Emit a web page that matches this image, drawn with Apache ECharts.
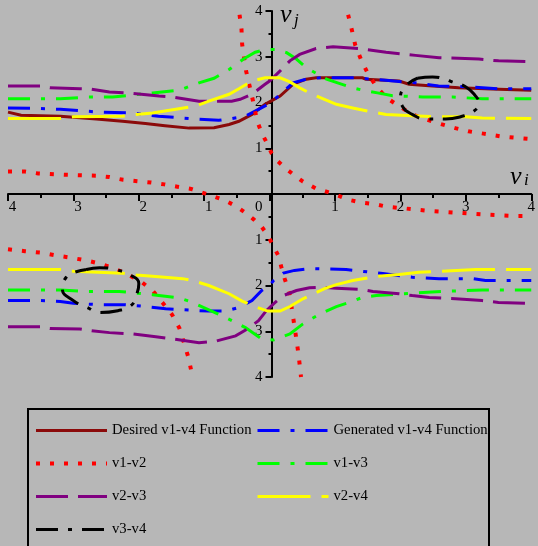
<!DOCTYPE html>
<html>
<head>
<meta charset="utf-8">
<script src="https://cdn.jsdelivr.net/npm/echarts@6/dist/echarts.min.js"></script>
<style>
  html, body { margin: 0; padding: 0; background: #b7b7b7; }
  #chart { width: 538px; height: 546px; }
</style>
</head>
<body>
<div id="chart"></div>
<script>
// Tick labels (magnitudes only) for values -4 .. 4
const xTickLabels = ['4', '3', '2', '1', '0', '1', '2', '3', '4'];
const yTickLabels = ['4', '3', '2', '1', '', '1', '2', '3', '4'];

// Desired v1-v4 relation (upper branch only)
const desired = [
  [-4, 1.79], [-3.8, 1.72], [-3.2, 1.70], [-2.65, 1.64], [-2.25, 1.59], [-1.9, 1.54],
  [-1.6, 1.49], [-1.23, 1.44], [-0.85, 1.45], [-0.62, 1.52], [-0.47, 1.59], [-0.27, 1.74],
  [-0.07, 1.96], [0.16, 2.14], [0.36, 2.40], [0.56, 2.51], [0.71, 2.54], [1.42, 2.54],
  [1.47, 2.51], [1.98, 2.47], [2.13, 2.40], [2.49, 2.36], [2.89, 2.32], [3.5, 2.29], [4, 2.27]
];

// Generated v1-v4 relation
const generatedUpper = [
  [-4, 1.88], [-3.5, 1.87], [-3.2, 1.85], [-2.6, 1.79], [-2.1, 1.77], [-1.7, 1.70],
  [-1.23, 1.65], [-0.78, 1.61], [-0.58, 1.65], [-0.37, 1.70], [-0.17, 1.85], [0, 1.98],
  [0.1, 2.10], [0.36, 2.43], [0.56, 2.51], [0.77, 2.54], [1.3, 2.54], [1.73, 2.49],
  [2.23, 2.43], [2.58, 2.36], [3.1, 2.34], [3.5, 2.30], [4, 2.30]
];
const generatedLower = [
  [-4, -2.33], [-3.5, -2.33], [-3.2, -2.35], [-3.0, -2.39], [-2.6, -2.42], [-2.2, -2.42],
  [-1.89, -2.46], [-1.59, -2.51], [-0.93, -2.56], [-0.67, -2.56], [-0.47, -2.48],
  [-0.27, -2.33], [-0.12, -2.11], [0, -2.0], [0.06, -1.89], [0.21, -1.73], [0.38, -1.67],
  [0.61, -1.63], [1.17, -1.65], [1.73, -1.74], [2.18, -1.82], [2.59, -1.85], [3.1, -1.85],
  [3.3, -1.89], [4, -1.89]
];

// v1-v2 relation: four separate branches
const v1v2BranchA = [
  [-4, 0.49], [-3.74, 0.49], [-3.54, 0.45], [-3.1, 0.42], [-2.65, 0.40], [-2.45, 0.37],
  [-2.24, 0.31], [-1.81, 0.25], [-1.61, 0.21], [-1.41, 0.16], [-1.2, 0.11], [-1.05, 0.04],
  [-0.88, -0.04], [-0.7, -0.13], [-0.52, -0.26], [-0.37, -0.41], [-0.24, -0.56],
  [-0.12, -0.72], [-0.03, -0.90], [0.05, -1.12], [0.13, -1.34], [0.18, -1.60],
  [0.23, -1.85], [0.30, -2.15], [0.36, -2.7], [0.42, -3.28], [0.45, -3.61], [0.48, -4.0]
];
const v1v2BranchB = [
  [-0.46, 3.92], [-0.43, 3.6], [-0.42, 3.27], [-0.36, 2.69], [-0.27, 2.14], [-0.19, 1.59],
  [-0.12, 1.33], [-0.04, 1.11], [0.03, 0.89], [0.13, 0.71], [0.26, 0.54], [0.51, 0.27],
  [0.71, 0.12], [0.87, 0.05], [1.02, -0.02], [1.22, -0.13], [1.42, -0.19], [1.6, -0.22],
  [1.8, -0.28], [2.03, -0.31], [2.44, -0.37], [2.87, -0.41], [3.3, -0.45], [3.75, -0.48], [4, -0.48]
];
const v1v2BranchC = [
  [1.2, 3.92], [1.26, 3.57], [1.31, 3.25], [1.4, 2.93], [1.5, 2.64], [1.63, 2.35],
  [1.79, 2.10], [1.98, 1.92], [2.18, 1.74], [2.39, 1.63], [2.59, 1.54], [2.84, 1.44],
  [3.04, 1.37], [3.27, 1.32], [3.53, 1.26], [4, 1.20]
];
const v1v2BranchD = [
  [-4, -1.21], [-3.74, -1.25], [-3.51, -1.28], [-3.28, -1.34], [-3.05, -1.39], [-2.81, -1.45],
  [-2.6, -1.52], [-2.37, -1.63], [-2.17, -1.76], [-1.97, -1.91], [-1.79, -2.11], [-1.64, -2.37],
  [-1.49, -2.64], [-1.38, -2.93], [-1.31, -3.25], [-1.24, -3.58], [-1.19, -3.92]
];

// v1-v3 relation
const v1v3Upper = [
  [-4, 2.08], [-3.2, 2.08], [-2.78, 2.12], [-2.4, 2.12], [-1.79, 2.21], [-1.38, 2.27],
  [-1.08, 2.43], [-0.85, 2.53], [-0.62, 2.72], [-0.40, 2.95], [-0.22, 3.10], [-0.05, 3.16],
  [0.1, 3.16], [0.26, 3.09], [0.41, 2.95], [0.56, 2.76], [0.71, 2.64], [0.87, 2.51],
  [1.04, 2.43], [1.27, 2.32], [1.42, 2.27], [1.65, 2.21], [1.88, 2.15], [2.34, 2.12],
  [2.8, 2.12], [3.25, 2.08], [4, 2.08]
];
const v1v3Lower = [
  [-4, -2.10], [-3.2, -2.10], [-2.78, -2.13], [-2.3, -2.13], [-1.79, -2.20], [-1.38, -2.27],
  [-1.18, -2.37], [-0.67, -2.70], [-0.37, -2.92], [-0.12, -3.17], [0.06, -3.19], [0.31, -3.06],
  [0.51, -2.84], [0.77, -2.62], [1.02, -2.46], [1.22, -2.37], [1.42, -2.26], [1.63, -2.22],
  [2.03, -2.18], [2.64, -2.13], [3.25, -2.10], [4, -2.10]
];

// v2-v3 relation
const v2v3Upper = [
  [-4, 2.36], [-3.5, 2.36], [-3.36, 2.32], [-2.9, 2.30], [-2.72, 2.29], [-2.45, 2.23],
  [-2.09, 2.20], [-1.69, 2.14], [-1.48, 2.12], [-1.08, 2.03], [-0.58, 2.03], [-0.45, 2.07],
  [-0.27, 2.18], [-0.17, 2.29], [-0.07, 2.40], [0, 2.47], [0.16, 2.69], [0.31, 2.91],
  [0.46, 3.05], [0.71, 3.18], [0.97, 3.22], [1.37, 3.18], [1.78, 3.10], [2.23, 3.03],
  [2.59, 2.98], [3.2, 2.95], [3.5, 2.91], [4, 2.89]
];
const v2v3Lower = [
  [-4, -2.90], [-3.5, -2.90], [-3.36, -2.94], [-2.9, -2.95], [-2.72, -2.99], [-2.45, -3.03],
  [-2.09, -3.06], [-1.74, -3.12], [-1.48, -3.17], [-1.08, -3.25], [-0.83, -3.22],
  [-0.52, -3.10], [-0.34, -2.95], [-0.17, -2.77], [-0.05, -2.55], [0.06, -2.40],
  [0.21, -2.22], [0.41, -2.11], [0.61, -2.05], [0.79, -2.04], [1.02, -2.06], [1.42, -2.09],
  [1.58, -2.13], [1.98, -2.18], [2.18, -2.22], [2.44, -2.26], [2.84, -2.29], [3.25, -2.33],
  [3.5, -2.37], [4, -2.39]
];

// v2-v4 relation
const v2v4Upper = [
  [-4, 1.65], [-3.18, 1.65], [-3.0, 1.69], [-2.25, 1.70], [-2.04, 1.74], [-1.79, 1.77],
  [-1.53, 1.83], [-1.13, 1.92], [-0.93, 2.03], [-0.62, 2.18], [-0.47, 2.30], [-0.27, 2.47],
  [-0.07, 2.54], [0.16, 2.54], [0.31, 2.45], [0.46, 2.32], [0.61, 2.21], [0.82, 2.08],
  [1.02, 1.96], [1.27, 1.88], [1.58, 1.79], [1.78, 1.74], [2.18, 1.71], [2.59, 1.69],
  [3.0, 1.69], [3.25, 1.66], [4, 1.65]
];
const v2v4Lower = [
  [-4, -1.65], [-3.18, -1.65], [-3.0, -1.69], [-2.25, -1.73], [-2.04, -1.77], [-1.79, -1.80],
  [-1.33, -1.85], [-1.16, -1.90], [-0.93, -2.00], [-0.62, -2.18], [-0.42, -2.34],
  [-0.17, -2.49], [-0.03, -2.56], [0.16, -2.56], [0.31, -2.46], [0.51, -2.29], [0.84, -2.07],
  [1.02, -1.98], [1.27, -1.89], [1.63, -1.80], [1.98, -1.76], [2.28, -1.71], [2.59, -1.69],
  [3.15, -1.65], [4, -1.65]
];

// v3-v4 relation: two closed loops
const v3v4LoopUpper = [
  [2.26, 2.53], [2.49, 2.56], [2.69, 2.51], [2.79, 2.45], [2.99, 2.35], [3.15, 2.14],
  [3.2, 1.99], [3.12, 1.81], [2.92, 1.69], [2.69, 1.64], [2.39, 1.64], [2.18, 1.74],
  [2.03, 1.92], [2.0, 2.10], [2.08, 2.36], [2.26, 2.53]
];
const v3v4LoopLower = [
  [-2.8, -1.65], [-2.6, -1.61], [-2.37, -1.65], [-2.12, -1.78], [-2.0, -1.96], [-2.04, -2.22],
  [-2.12, -2.44], [-2.32, -2.55], [-2.6, -2.59], [-2.79, -2.48], [-3.0, -2.33], [-3.17, -2.07],
  [-3.11, -1.82], [-2.98, -1.71], [-2.8, -1.65]
];

const SERIF = '"Liberation Serif", "Times New Roman", serif';

const styles = {
  'Desired v1-v4 Function':   { color: '#8b0a0a', width: 3, dash: 'solid' },
  'Generated v1-v4 Function': { color: '#0000ff', width: 3, dash: [22, 11, 4, 11] },
  'v1-v2':                    { color: '#ff0000', width: 4, dash: [4, 10] },
  'v1-v3':                    { color: '#00ff00', width: 3, dash: [22, 11, 4, 11] },
  'v2-v3':                    { color: '#800080', width: 3, dash: [32, 10] },
  'v2-v4':                    { color: '#ffff00', width: 3, dash: [53, 11] },
  'v3-v4':                    { color: '#000000', width: 3, dash: [22, 10, 4, 10] }
};

function curve(name, data, smooth) {
  const s = styles[name];
  return {
    type: 'line',
    name: name,
    data: data,
    symbol: 'none',
    smooth: smooth || false,
    silent: true,
    clip: true,
    itemStyle: { color: s.color },
    lineStyle: { color: s.color, width: s.width, type: s.dash, cap: 'butt', join: 'miter' }
  };
}

const series = [
  curve('Desired v1-v4 Function', desired),
  curve('Generated v1-v4 Function', generatedUpper),
  curve('Generated v1-v4 Function', generatedLower),
  curve('v1-v2', v1v2BranchA),
  curve('v1-v2', v1v2BranchB),
  curve('v1-v2', v1v2BranchC),
  curve('v1-v2', v1v2BranchD),
  curve('v1-v3', v1v3Upper),
  curve('v1-v3', v1v3Lower),
  curve('v2-v3', v2v3Upper),
  curve('v2-v3', v2v3Lower),
  curve('v2-v4', v2v4Upper),
  curve('v2-v4', v2v4Lower),
  curve('v3-v4', v3v4LoopUpper, 0.5),
  curve('v3-v4', v3v4LoopLower, 0.5)
];

function legendItems(names) {
  return names.map(n => ({
    name: n,
    itemStyle: { opacity: 0 },
    lineStyle: { width: styles[n].width, type: styles[n].dash, color: styles[n].color, cap: 'butt' }
  }));
}

const legendCommon = {
  orient: 'vertical',
  top: 423,
  padding: 0,
  itemWidth: 71,
  itemHeight: 16,
  itemGap: 18,
  selectedMode: false,
  itemStyle: { opacity: 0 },
  textStyle: { fontFamily: SERIF, fontSize: 14.7, color: '#000' }
};

const option = {
  animation: false,
  backgroundColor: '#b7b7b7',
  grid: { left: 8, right: 3, top: 11, bottom: 169, containLabel: false },
  xAxis: {
    type: 'value', min: -4, max: 4, interval: 1,
    position: 'bottom',
    offset: -183,
    axisLine: { show: true, onZero: false, lineStyle: { color: '#000', width: 2 } },
    splitLine: { show: false },
    axisTick: { show: true, length: 7, lineStyle: { color: '#000', width: 2 } },
    minorTick: { show: true, splitNumber: 2, length: 4, lineStyle: { color: '#000', width: 2 } },
    axisLabel: {
      margin: 6,
      fontFamily: SERIF, fontSize: 15, color: '#000',
      formatter: function (v) {
        const t = xTickLabels[Math.round(v) + 4];
        if (v === 0) return '{z|' + t + '}';
        if (v < 0) return '{n|' + t + '}';
        return t;
      },
      rich: {
        z: { fontFamily: SERIF, fontSize: 15, color: '#000', padding: [0, 22, 0, 0] },
        n: { fontFamily: SERIF, fontSize: 15, color: '#000', padding: [0, 0, 0, 9] }
      }
    }
  },
  yAxis: {
    type: 'value', min: -4, max: 4, interval: 1,
    position: 'left',
    offset: -263.5,
    axisLine: { show: true, onZero: false, lineStyle: { color: '#000', width: 2 } },
    splitLine: { show: false },
    axisTick: { show: true, length: 6, lineStyle: { color: '#000', width: 2 } },
    minorTick: { show: true, splitNumber: 2, length: 3, lineStyle: { color: '#000', width: 2 } },
    axisLabel: {
      margin: 9,
      fontFamily: SERIF, fontSize: 15, color: '#000',
      formatter: function (v) { return yTickLabels[Math.round(v) + 4]; }
    }
  },
  legend: [
    Object.assign({ left: 34, data: legendItems(['Desired v1-v4 Function', 'v1-v2', 'v2-v3', 'v3-v4']) }, legendCommon),
    Object.assign({ left: 256, data: legendItems(['Generated v1-v4 Function', 'v1-v3', 'v2-v4']) }, legendCommon)
  ],
  graphic: [
    {
      type: 'rect', silent: true, z: 0,
      shape: { x: 28, y: 409, width: 461, height: 145 },
      style: { fill: 'none', stroke: '#000', lineWidth: 2 }
    },
    { type: 'text', x: 280, y: 2, silent: true,
      style: { text: 'v', font: 'italic 26px ' + SERIF, fill: '#000' } },
    { type: 'text', x: 294, y: 12, silent: true,
      style: { text: 'j', font: 'italic 17px ' + SERIF, fill: '#000' } },
    { type: 'text', x: 510, y: 164, silent: true,
      style: { text: 'v', font: 'italic 26px ' + SERIF, fill: '#000' } },
    { type: 'text', x: 524, y: 172, silent: true,
      style: { text: 'i', font: 'italic 17px ' + SERIF, fill: '#000' } }
  ],
  series: series
};

const chart = echarts.init(document.getElementById('chart'), null, { renderer: 'canvas' });
chart.setOption(option);
</script>
</body>
</html>
